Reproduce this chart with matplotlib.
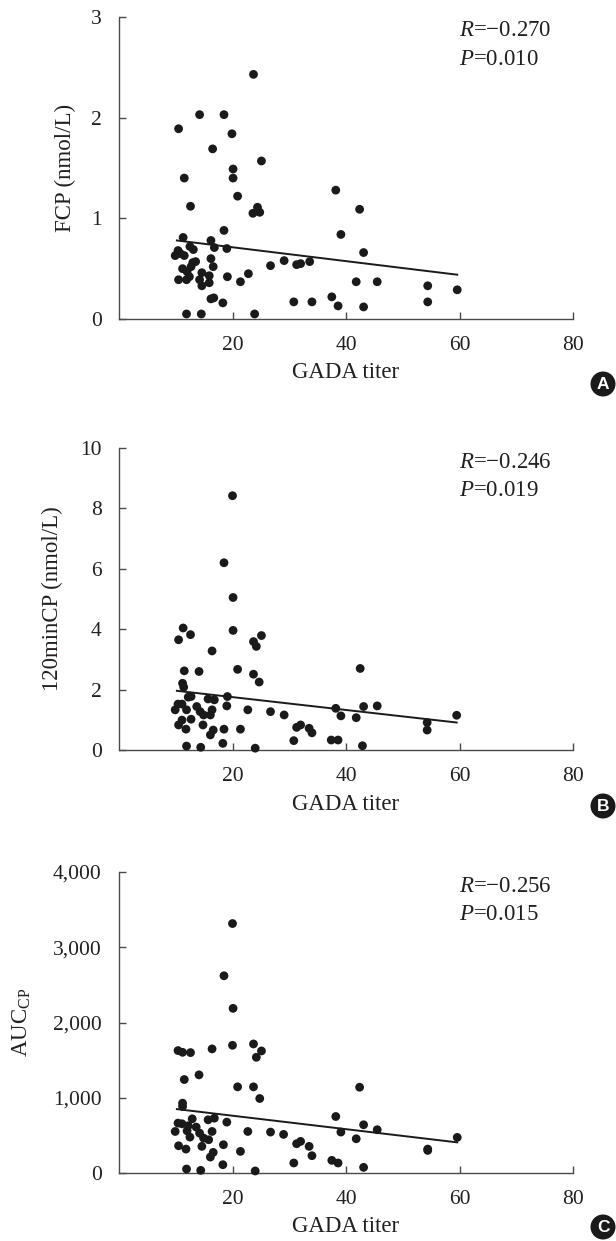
import matplotlib
matplotlib.use("Agg")
import matplotlib.pyplot as plt
from matplotlib.ticker import FuncFormatter
from matplotlib.patches import Ellipse

plt.rcParams['font.family'] = ['Liberation Serif', 'DejaVu Serif']
plt.rcParams['mathtext.fontset'] = 'custom'
plt.rcParams['mathtext.rm'] = 'Liberation Serif'
plt.rcParams['mathtext.it'] = 'Liberation Serif:italic'

TEXT = '#231f20'
AX = '#4a4a4a'

# ---------------- Panel A: FCP ----------------
a_x = [23.7, 14.2, 18.5, 10.5, 19.9, 16.5, 25.1, 20.1, 20.1, 11.5, 20.9, 12.6, 24.4, 23.6,
       24.8, 38.2, 42.4, 39.1, 18.5, 11.3, 16.2, 12.5, 13.1, 16.8, 19.0, 10.4, 9.9, 11.5,
       13.5, 16.2, 16.6, 11.2, 12.7, 10.5, 11.9, 12.4, 14.6, 15.9, 14.2, 15.9, 14.6, 19.1,
       21.4, 22.8, 26.7, 29.1, 31.3, 32.0, 33.6, 16.2, 16.7, 18.3, 30.8, 34.0, 37.5, 38.6,
       11.9, 14.5, 23.9, 41.8, 43.1, 45.5, 54.4, 59.6, 54.4, 43.1, 10.8, 12.0, 13.0]
a_y = [2.43, 2.03, 2.03, 1.89, 1.84, 1.69, 1.57, 1.49, 1.40, 1.40, 1.22, 1.12, 1.11, 1.05,
       1.06, 1.28, 1.09, 0.84, 0.88, 0.81, 0.78, 0.72, 0.69, 0.71, 0.70, 0.68, 0.63, 0.63,
       0.57, 0.60, 0.52, 0.50, 0.52, 0.39, 0.39, 0.42, 0.46, 0.43, 0.39, 0.36, 0.33, 0.42,
       0.37, 0.45, 0.53, 0.58, 0.54, 0.55, 0.57, 0.20, 0.21, 0.16, 0.17, 0.17, 0.22, 0.13,
       0.05, 0.05, 0.05, 0.37, 0.66, 0.37, 0.33, 0.29, 0.17, 0.12, 0.65, 0.47, 0.56]
a_fit_x = [10.2, 59.6]
a_fit_y = [0.78, 0.44]

# ---------------- Panel B: 120minCP ----------------
b_x = [20.0, 18.5, 20.1, 20.1, 11.3, 10.5, 12.6, 16.4, 23.7, 24.2, 25.1, 11.5, 14.1, 20.9,
       23.7, 24.7, 11.2, 11.4, 12.7, 19.1, 19.0, 15.7, 16.8, 16.4, 16.1, 10.4, 11.1, 9.9,
       11.9, 13.7, 14.3, 14.9, 11.1, 12.7, 10.5, 11.8, 14.8, 22.7, 26.7, 29.1, 31.3, 32.0,
       33.5, 34.0, 30.8, 21.4, 18.5, 16.6, 16.1, 18.3, 11.9, 14.4, 24.0, 37.4, 38.6, 38.2,
       39.1, 41.8, 42.5, 43.1, 45.5, 59.5, 54.3, 54.3, 42.9, 12.2]
b_y = [8.42, 6.20, 5.05, 3.96, 4.04, 3.65, 3.82, 3.28, 3.59, 3.43, 3.79, 2.62, 2.60, 2.67,
       2.51, 2.25, 2.21, 2.08, 1.77, 1.77, 1.46, 1.69, 1.66, 1.33, 1.16, 1.52, 1.52, 1.33,
       1.33, 1.44, 1.27, 1.16, 0.99, 1.02, 0.83, 0.69, 0.83, 1.33, 1.27, 1.16, 0.75, 0.83,
       0.72, 0.57, 0.31, 0.69, 0.69, 0.66, 0.50, 0.22, 0.13, 0.09, 0.06, 0.33, 0.33, 1.38,
       1.13, 1.07, 2.70, 1.44, 1.46, 1.15, 0.91, 0.66, 0.14, 1.75]
b_fit_x = [10.2, 59.5]
b_fit_y = [1.96, 0.91]

# ---------------- Panel C: AUC_CP ----------------
c_x = [20.0, 18.5, 20.1, 10.4, 11.2, 12.6, 16.4, 20.0, 23.7, 25.1, 24.2, 11.5, 14.1, 20.9,
       23.7, 24.8, 11.2, 11.2, 12.9, 15.7, 16.8, 16.4, 19.0, 10.4, 11.1, 9.9, 12.2, 13.6,
       14.2, 12.5, 14.9, 15.8, 10.5, 11.8, 14.6, 22.7, 26.7, 29.0, 31.3, 32.0, 33.5, 34.0,
       30.8, 21.4, 18.4, 16.6, 16.1, 18.3, 11.9, 14.4, 24.0, 37.5, 38.6, 38.2, 39.1, 41.8,
       42.4, 43.1, 45.5, 59.6, 54.4, 43.1, 54.4, 12.0]
c_y = [3315, 2621, 2188, 1627, 1604, 1600, 1649, 1697, 1715, 1622, 1538, 1242, 1304, 1145,
       1145, 990, 928, 884, 720, 707, 729, 552, 676, 663, 654, 552, 628, 610,
       530, 477, 464, 442, 362, 318, 354, 552, 544, 513, 389, 420, 354, 230,
       133, 287, 376, 274, 212, 110, 53, 35, 27, 168, 133, 751, 544, 455,
       1140, 641, 575, 473, 318, 75, 300, 560]
c_fit_x = [10.2, 59.6]
c_fit_y = [849, 407]

x_ticks = [20, 40, 60, 80]
x_label = 'GADA titer'

W, H = 616, 1241
LEFT, RIGHT = 119, 573
fig = plt.figure(figsize=(W / 100, H / 100), dpi=100)

panels = [
    dict(top=17, bot=319, x=a_x, y=a_y, fx=a_fit_x, fy=a_fit_y, ymax=3, yticks=[0, 1, 2, 3],
         ylabel='FCP (nmol/L)', ylab_px=65, r='−0.270', p='0.010', badge='A', badge_dy=65,
         fmt=lambda v, p: f'{v:g}'),
    dict(top=448, bot=750, x=b_x, y=b_y, fx=b_fit_x, fy=b_fit_y, ymax=10,
         yticks=[0, 2, 4, 6, 8, 10], ylabel='120minCP (nmol/L)', ylab_px=52,
         r='−0.246', p='0.019', badge='B', badge_dy=56, fmt=lambda v, p: f'{v:g}'),
    dict(top=872, bot=1173, x=c_x, y=c_y, fx=c_fit_x, fy=c_fit_y, ymax=4000,
         yticks=[0, 1000, 2000, 3000, 4000], ylabel=r'AUC$_{\mathregular{CP}}$', ylab_px=22,
         r='−0.256', p='0.015', badge='C', badge_dy=54, fmt=lambda v, p: f'{int(v):,}'),
]

for pn in panels:
    hpx = pn['bot'] - pn['top']
    ax = fig.add_axes([LEFT / W, 1 - pn['bot'] / H, (RIGHT - LEFT) / W, hpx / H])
    ax.scatter(pn['x'], pn['y'], s=40, color='#1a1a1a', edgecolors='none', zorder=3, clip_on=False)
    ax.plot(pn['fx'], pn['fy'], color='#1a1a1a', lw=1.4, zorder=2)
    ax.set_xlim(0, 80)
    ax.set_ylim(0, pn['ymax'])
    ax.set_xticks(x_ticks)
    ax.set_yticks(pn['yticks'])
    ax.yaxis.set_major_formatter(FuncFormatter(pn['fmt']))
    for s in ['top', 'right']:
        ax.spines[s].set_visible(False)
    for s in ['left', 'bottom']:
        ax.spines[s].set_color(AX)
        ax.spines[s].set_linewidth(1.0)
    ax.tick_params(direction='in', length=5, width=1.0, color=AX, labelsize=15.5,
                   labelcolor=TEXT, pad=12.5)
    ax.set_xlabel(x_label, fontsize=16.5, color=TEXT, va='center')
    ax.xaxis.set_label_coords(0.5, -54 / hpx)
    ax.set_ylabel(pn['ylabel'], fontsize=16.5, color=TEXT, va='center')
    ax.yaxis.set_label_coords((pn['ylab_px'] - LEFT) / (RIGHT - LEFT), 0.5)
    ax.text(0.749, 1 - 19.5 / hpx, r'$R$=' + pn['r'], transform=ax.transAxes, fontsize=16.5,
            color=TEXT, va='baseline', ha='left')
    ax.text(0.749, 1 - 48 / hpx, r'$P$=' + pn['p'], transform=ax.transAxes, fontsize=16.5,
            color=TEXT, va='baseline', ha='left')
    by = pn['bot'] + pn['badge_dy']
    fig.patches.append(Ellipse((603 / W, 1 - by / H), 25 / W, 25 / H,
                               transform=fig.transFigure, fc='#1a1a1a', ec='none'))
    fig.text(603 / W, 1 - (by + 0.5) / H, pn['badge'], fontsize=12.5, fontweight='bold',
             family='Liberation Sans', color='white', ha='center', va='center')

fig.savefig('out.png', dpi=100)
